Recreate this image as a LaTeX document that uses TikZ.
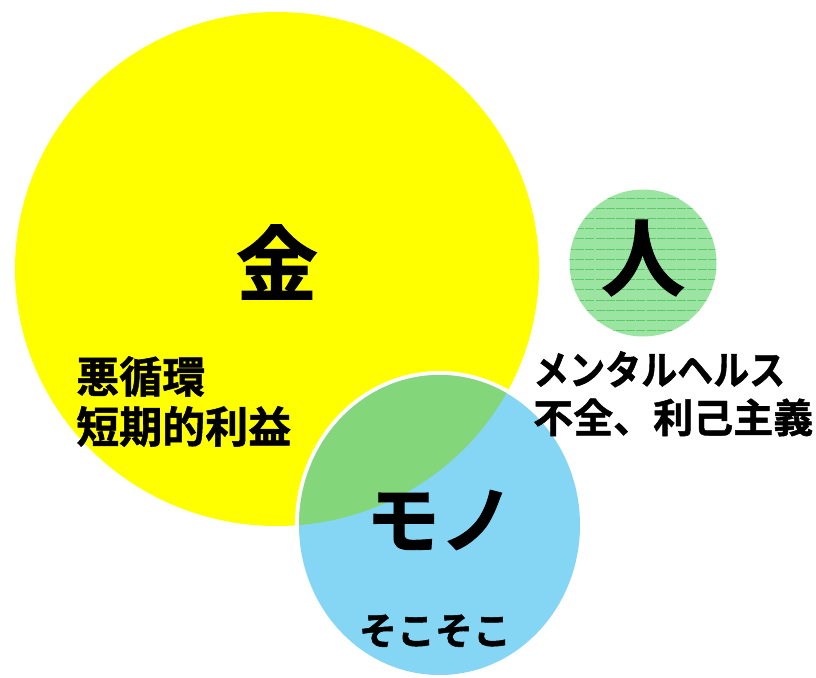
\documentclass[tikz,border=0pt]{standalone}
\usepackage{fontspec}
\newfontfamily\jp{Noto Sans CJK JP}[BoldFont=* Bold,BoldFeatures={FakeBold=1.2}]
\definecolor{kyellow}{HTML}{FFFF00}
\definecolor{kblue}{HTML}{85D6F5}
\definecolor{kgreen}{HTML}{84D67A}
\definecolor{hgreen}{HTML}{9BE4A1}
\definecolor{hline}{HTML}{5ACB68}
\begin{document}
\begin{tikzpicture}[x=1pt,y=-1pt,
  big/.style={font=\jp\bfseries\fontsize{82}{82}\selectfont, inner sep=0pt},
  mid/.style={font=\jp\bfseries\fontsize{43}{50}\selectfont, inner sep=0pt, align=left},
  small/.style={font=\jp\bfseries\fontsize{38}{40}\selectfont, inner sep=0pt}]
\useasboundingbox (0,0) rectangle (816,677);
% yellow
\fill[kyellow] (277,269) ellipse [x radius=262, y radius=257];
% blue with white rim
\fill[white] (439.5,525) ellipse [x radius=144.5, y radius=154];
\fill[kblue] (439.5,525) ellipse [x radius=140.5, y radius=150];
% overlap
\begin{scope}
  \clip (277,269) ellipse [x radius=262, y radius=257];
  \fill[kgreen] (439.5,525) ellipse [x radius=140.5, y radius=150];
\end{scope}
% person circle
\fill[hgreen] (643,263) circle [radius=73.5];
\begin{scope}
  \clip (643,263) circle [radius=73.5];
  \foreach \yy in {198,208.2,...,335} {
    \draw[hline, line width=0.9pt, dash pattern=on 9pt off 1.2pt] (565,\yy) -- (720,\yy);
  }
\end{scope}
% texts
\node[big] (kane) at (277,262) {金};
\node[big, font=\jp\bfseries\fontsize{84}{84}\selectfont] (hito) at (643,258) {人};
\node[big, font=\jp\bfseries\fontsize{74}{74}\selectfont] (mono) at (440,520) {モノ};
\node[mid, anchor=north west] (kanet) at (76,356) {悪循環\\短期的利益};
\node[mid, anchor=north west, font=\jp\bfseries\fontsize{40}{48}\selectfont] (hitot) at (533,351) {\scalebox{0.9}[1]{メンタルヘルス}\\不全、利己主義};
\node[small] (monot) at (435,631) {そこそこ};
\end{tikzpicture}
\end{document}
